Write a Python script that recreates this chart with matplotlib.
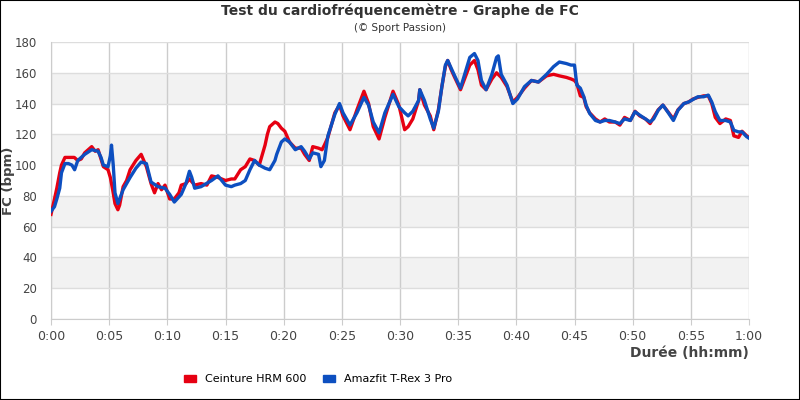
import numpy as np
import matplotlib
matplotlib.use("Agg")
import matplotlib.pyplot as plt
from matplotlib.patches import Patch, Rectangle

# minutes / bpm
t_red = [0, 0.3, 0.5, 0.75, 0.9, 1.2, 1.5, 2.0, 2.3, 2.6, 2.9, 3.2, 3.5, 3.8, 4.05, 4.3, 4.5, 4.9,
         5.1, 5.3, 5.5, 5.75, 5.9, 6.2, 6.5, 6.8, 7.3, 7.75, 8.2, 8.6, 8.9, 9.2, 9.5, 9.8, 10.2, 10.6,
         11.0, 11.2, 11.6, 11.9, 12.35, 12.9, 13.4, 13.8, 14.35, 15.0, 15.5, 15.8, 16.3, 16.7, 17.1,
         17.5, 17.9, 18.4, 18.6, 18.8, 19.25, 19.5, 19.8, 20.1, 20.5, 21.0, 21.5, 21.8, 22.2, 22.5,
         23.0, 23.3, 23.5, 23.8, 24.4, 24.8, 25.1, 25.7, 26.3, 26.9, 27.3, 27.7, 28.2, 28.7, 29.4,
         29.9, 30.4, 30.7, 31.1, 31.6, 31.7, 32.1, 32.6, 32.9, 33.3, 33.6, 33.9, 34.1, 34.4, 34.7,
         35.2, 35.6, 36.0, 36.4, 36.7, 37.0, 37.4, 37.9, 38.3, 38.7, 39.2, 39.7, 40.1, 40.7, 41.3,
         41.9, 42.6, 43.2, 43.7, 44.3, 44.7, 45.0, 45.2, 45.5, 45.8, 46.0, 46.3, 46.8, 47.2, 47.6,
         48.0, 48.5, 48.9, 49.3, 49.8, 50.2, 50.6, 51.1, 51.5, 51.8, 52.2, 52.6, 53.1, 53.5, 53.9,
         54.4, 54.8, 55.2, 55.6, 56.1, 56.5, 56.8, 57.1, 57.5, 58.0, 58.4, 58.7, 59.1, 59.4, 59.8, 60.0]
hr_red = [68, 78, 85, 95, 100, 105, 105, 105, 103, 104, 108, 110, 112, 109, 110, 104, 99, 97,
          92, 84, 75, 71, 74, 86, 90, 97, 103, 107, 99, 88, 82, 88, 84, 87, 78, 78,
          82, 87, 88, 91, 87, 88, 87, 93, 92, 90, 91, 91, 97, 99, 104,
          103, 100, 113, 120, 125, 128, 127, 124, 122, 115, 111, 111, 107, 103, 112,
          111, 110, 113, 118, 134, 139, 132, 123, 136, 148, 140, 125, 117, 131, 148,
          139, 123, 125, 130, 142, 149, 139, 132, 123, 136, 151, 164, 168, 162, 157,
          149, 157, 165, 168, 162, 152, 149, 156, 160, 157, 151, 141, 144, 150, 155,
          154, 158, 159, 158, 157, 156, 155, 153, 145, 144, 138, 134, 130, 128, 130,
          128, 128, 126, 131, 129, 135, 132, 130, 127, 131, 136, 139, 134, 130, 136,
          140, 141, 143, 144, 145, 145, 140, 131, 127, 130, 129, 119, 118, 122, 119, 118]

t_blue = [0, 0.3, 0.5, 0.75, 0.9, 1.2, 1.5, 1.8, 2.03, 2.3, 2.9, 3.5, 4.05, 4.3, 4.5, 4.9, 5.1,
          5.2, 5.35, 5.5, 5.75, 6.2, 6.8, 7.3, 7.75, 8.2, 8.6, 9.2, 9.8, 10.2, 10.6, 11.2, 11.6,
          11.9, 12.1, 12.35, 12.9, 13.8, 14.35, 15.0, 15.5, 15.8, 16.3, 16.7, 17.1, 17.5, 17.9,
          18.4, 18.8, 19.25, 19.4, 19.8, 20.1, 20.5, 21.0, 21.5, 21.8, 22.2, 22.5, 23.0, 23.2,
          23.5, 23.8, 24.4, 24.8, 25.1, 25.7, 26.3, 26.9, 27.3, 27.7, 28.2, 28.7, 29.4, 29.9,
          30.4, 30.7, 31.1, 31.6, 31.7, 32.1, 32.6, 32.9, 33.3, 33.6, 33.9, 34.1, 34.4, 34.7,
          35.2, 35.6, 36.0, 36.4, 36.7, 37.0, 37.4, 37.9, 38.3, 38.45, 38.7, 39.2, 39.7, 40.1,
          40.7, 41.3, 41.9, 42.6, 43.2, 43.7, 44.3, 44.7, 45.0, 45.2, 45.5, 45.8, 46.0, 46.3,
          46.8, 47.2, 47.6, 48.0, 48.5, 48.9, 49.3, 49.8, 50.2, 50.6, 51.1, 51.5, 51.8, 52.2,
          52.6, 53.1, 53.5, 53.9, 54.4, 54.8, 55.2, 55.6, 56.1, 56.5, 56.8, 57.1, 57.5, 58.0,
          58.4, 58.7, 59.1, 59.4, 59.8, 60.0]
hr_blue = [70, 73, 78, 85, 95, 101, 101, 100, 97, 103, 107, 110, 109, 105, 100, 99, 106,
           113, 100, 82, 75, 84, 92, 98, 102, 101, 89, 86, 85, 81, 76, 81, 88,
           96, 92, 85, 86, 90, 93, 87, 86, 87, 88, 90, 97, 103, 100,
           98, 97, 103, 107, 115, 117, 115, 110, 112, 109, 104, 108, 107, 99,
           103, 119, 133, 140, 134, 126, 134, 144, 139, 128, 121, 134, 146, 138,
           134, 132, 135, 142, 149, 142, 130, 124, 135, 151, 165, 168, 163, 158,
           150, 160, 170, 172.5, 168, 155, 149, 159, 170, 171, 159, 152, 140, 143,
           151, 155, 154, 159, 164, 167, 166, 165, 165, 152, 150, 144.5, 139, 133.6,
           129, 128, 129, 129, 128, 127, 130, 129, 134.7, 132.5, 130, 128, 130, 135.7,
           139, 133.6, 129, 135.7, 140, 141, 142.7, 144.4, 144.4, 145.5, 141, 134.7, 129, 129,
           128, 122.6, 121.6, 121.6, 118.5, 117.5]

xticks = list(range(0, 61, 5))
xlabels = ["0:%02d" % m for m in xticks[:-1]] + ["1:00"]
yticks = list(range(0, 181, 20))

red = '#e60012'
blue = '#0d4fc0'
txt = '#444444'

fig = plt.figure(figsize=(8, 4), dpi=100, facecolor='w')
ax = fig.add_axes([51/800, 1 - 319/400, 698/800, 277/400])

# alternating bands
for lo in [20, 60, 100, 140]:
    ax.axhspan(lo, lo + 20, color='#f2f2f2', zorder=0, lw=0)

ax.set_xlim(0, 60)
ax.set_ylim(0, 180)
ax.set_xticks(xticks)
ax.set_xticklabels(xlabels)
ax.set_yticks(yticks)
ax.grid(axis='y', color='#dddddd', lw=1, zorder=1)
ax.grid(axis='x', color='#cccccc', lw=1, zorder=1)
ax.set_axisbelow(True)
for s in ['top', 'right']:
    ax.spines[s].set_visible(False)
ax.spines['left'].set_color('#cccccc')
ax.spines['bottom'].set_color('#cccccc')
ax.tick_params(axis='both', colors=txt, labelsize=9)
ax.tick_params(axis='y', length=0, pad=10, labelsize=8.5)
ax.tick_params(axis='x', length=4, color='#cccccc', pad=4)

ax.plot(t_red, hr_red, color=red, lw=2.4, zorder=3)
ax.plot(t_blue, hr_blue, color=blue, lw=2.4, zorder=4)

ax.set_ylabel('FC (bpm)', fontsize=9.5, fontweight='bold', color=txt)
ax.yaxis.set_label_coords(-36/698, 0.5)
ax.set_xlabel('Durée (hh:mm)', fontsize=10, fontweight='bold', color=txt, loc='right', labelpad=2)

fig.text(0.5, 0.972, 'Test du cardiofréquencemètre - Graphe de FC', ha='center', va='center',
         fontsize=10, fontweight='bold', color='#333333')
fig.text(0.5, 0.93, '(© Sport Passion)', ha='center', va='center', fontsize=7.5, color='#333333')

handles = [Patch(facecolor=red, edgecolor=red), Patch(facecolor=blue, edgecolor=blue)]
fig.legend(handles, ['Ceinture HRM 600', 'Amazfit T-Rex 3 Pro'], loc='center',
           bbox_to_anchor=(318/800, 1 - 379/400), ncol=2, frameon=False, fontsize=8,
           handlelength=1.1, handleheight=0.6, columnspacing=1.5, handletextpad=0.8)

fig.patches.append(Rectangle((0, 0), 1, 1, transform=fig.transFigure, fill=False,
                             edgecolor='black', lw=1.5))

fig.savefig('out.png', dpi=100)
